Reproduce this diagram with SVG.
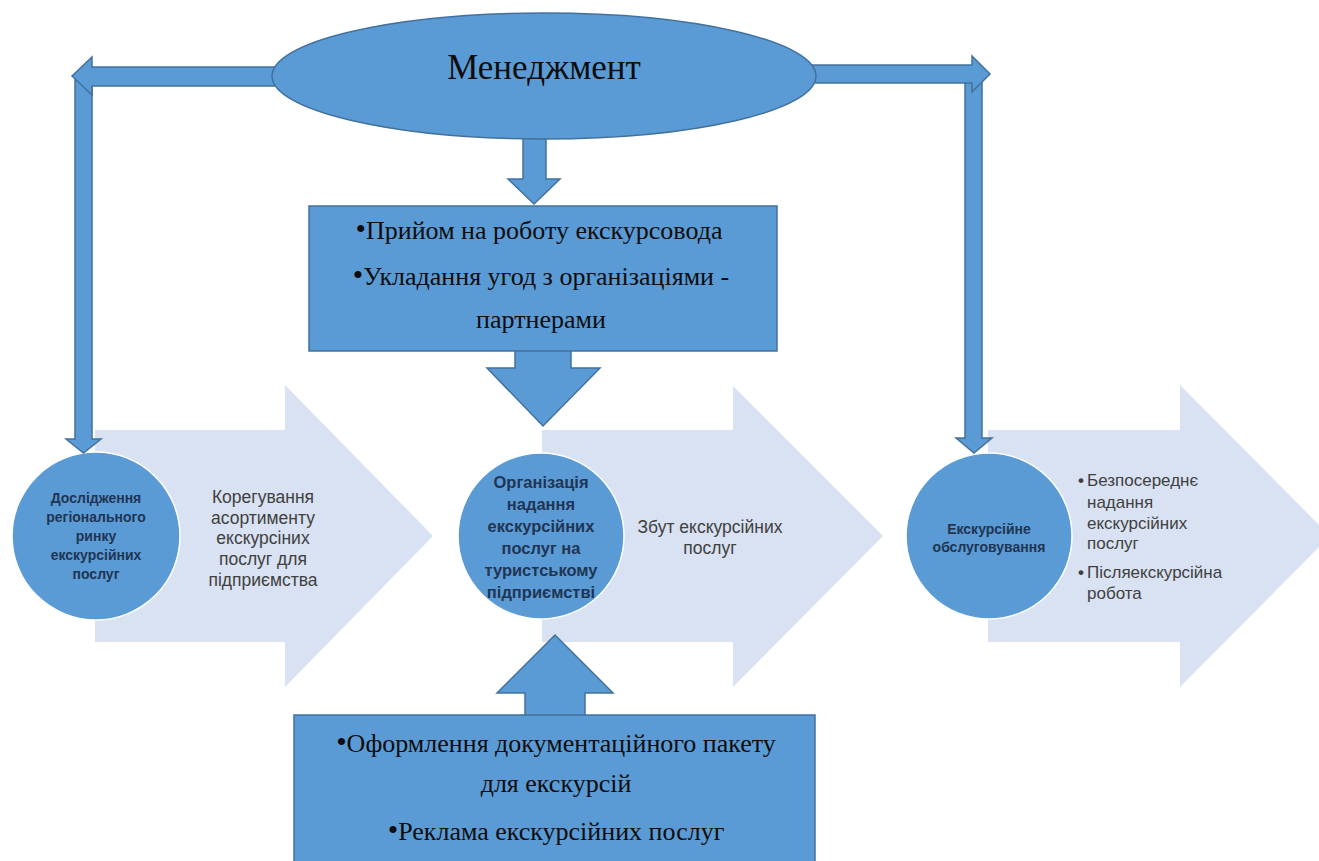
<svg xmlns="http://www.w3.org/2000/svg" width="1319" height="861" viewBox="0 0 1319 861">
  <style>
    .light { fill: #d9e2f2; stroke: none; }
    .blue { fill: #5b9bd5; stroke: #41719c; stroke-width: 1.5; }
    .circ { fill: #5b9bd5; stroke: #ffffff; stroke-width: 1.5; }
    .serif { font-family: "Liberation Serif", "Times New Roman", serif; fill: #0d0d0d; text-anchor: middle; }
    .ctext { font-family: "Liberation Sans", Arial, sans-serif; font-weight: bold; fill: #1f3553; text-anchor: middle; }
    .atext { font-family: "Liberation Sans", Arial, sans-serif; fill: #404040; }
    .bul { font-size: 1.15em; }
  </style>
  <rect width="1319" height="861" fill="#ffffff"/>

  <g id="arrow-left">
    <polygon class="light" points="95,430 285,430 285,385 433,536 285,687 285,642 95,642"/>
    <g class="atext" text-anchor="middle" font-size="17.5">
      <text x="263" y="503">Корегування</text>
      <text x="263" y="524">асортименту</text>
      <text x="263" y="544">екскурсіних</text>
      <text x="263" y="565">послуг для</text>
      <text x="263" y="586">підприємства</text>
    </g>
  </g>
  <g id="arrow-middle">
    <polygon class="light" points="542,430 733,430 733,386 883,536 733,687 733,642 542,642"/>
    <g class="atext" text-anchor="middle" font-size="17.5">
      <text x="710" y="533">Збут екскурсійних</text>
      <text x="710" y="554">послуг</text>
    </g>
  </g>
  <g id="arrow-right">
    <polygon class="light" points="988,430 1180,430 1180,385 1330,536 1180,687 1180,642 988,642"/>
    <g class="atext" font-size="17">
      <text x="1078" y="486" font-weight="bold">•</text>
      <text x="1087" y="486">Безпосереднє</text>
      <text x="1087" y="508">надання</text>
      <text x="1087" y="529">екскурсійних</text>
      <text x="1087" y="549">послуг</text>
      <text x="1078" y="578" font-weight="bold">•</text>
      <text x="1087" y="578">Післяекскурсійна</text>
      <text x="1087" y="599">робота</text>
    </g>
  </g>

  <g id="circle-research">
    <circle class="circ" cx="96" cy="536" r="84"/>
    <g class="ctext" font-size="14">
      <text x="96" y="503">Дослідження</text>
      <text x="96" y="522">регіонального</text>
      <text x="96" y="541">ринку</text>
      <text x="96" y="560">екскурсійних</text>
      <text x="96" y="579">послуг</text>
    </g>
  </g>
  <g id="circle-organization">
    <circle class="circ" cx="541" cy="536" r="83"/>
    <g class="ctext" font-size="16.5">
      <text x="541" y="488">Організація</text>
      <text x="541" y="510">надання</text>
      <text x="541" y="532">екскурсійних</text>
      <text x="541" y="554">послуг на</text>
      <text x="541" y="576">туристському</text>
      <text x="541" y="598">підприємстві</text>
    </g>
  </g>
  <g id="circle-service">
    <circle class="circ" cx="989" cy="536" r="83"/>
    <g class="ctext" font-size="14">
      <text x="989" y="534">Екскурсійне</text>
      <text x="989" y="552">обслуговування</text>
    </g>
  </g>

  <g id="connectors">
    <polygon class="blue" points="75,80 92,80 92,439 101,439 83.5,453 66,439 75,439"/>
    <polygon class="blue" points="280,67 92,67 92,57 72,76 92,95 92,86 280,86"/>
    <polygon class="blue" points="965,80 982,80 982,438 992,438 974,453 956,438 965,438"/>
    <polygon class="blue" points="808,65 972,65 972,56 990,74 972,92 972,83 808,83"/>
    <polygon class="blue" points="523,130 546,130 546,179 560,179 534,204 508,179 523,179"/>
    <polygon class="blue" points="515,345 571,345 571,368 600,368 543,426 487,368 515,368"/>
    <polygon class="blue" points="525,722 585,722 585,693 613,693 555,635 497,693 525,693"/>
  </g>

  <g id="management">
    <ellipse class="blue" cx="544" cy="76" rx="272" ry="63"/>
    <text class="serif" x="544" y="79" font-size="35">Менеджмент</text>
  </g>
  <g id="box-top">
    <rect class="blue" x="309" y="206" width="468" height="145"/>
    <g class="serif" font-size="26">
      <text x="539" y="239"><tspan class="bul">•</tspan>Прийом на роботу екскурсовода</text>
      <text x="541" y="285"><tspan class="bul">•</tspan>Укладання угод з організаціями -</text>
      <text x="541" y="328">партнерами</text>
    </g>
  </g>
  <g id="box-bottom">
    <rect class="blue" x="294" y="715" width="521" height="160"/>
    <g class="serif" font-size="26">
      <text x="556" y="752"><tspan class="bul">•</tspan>Оформлення документаційного пакету</text>
      <text x="556" y="792">для екскурсій</text>
      <text x="556" y="840"><tspan class="bul">•</tspan>Реклама екскурсійних послуг</text>
    </g>
  </g>
</svg>
